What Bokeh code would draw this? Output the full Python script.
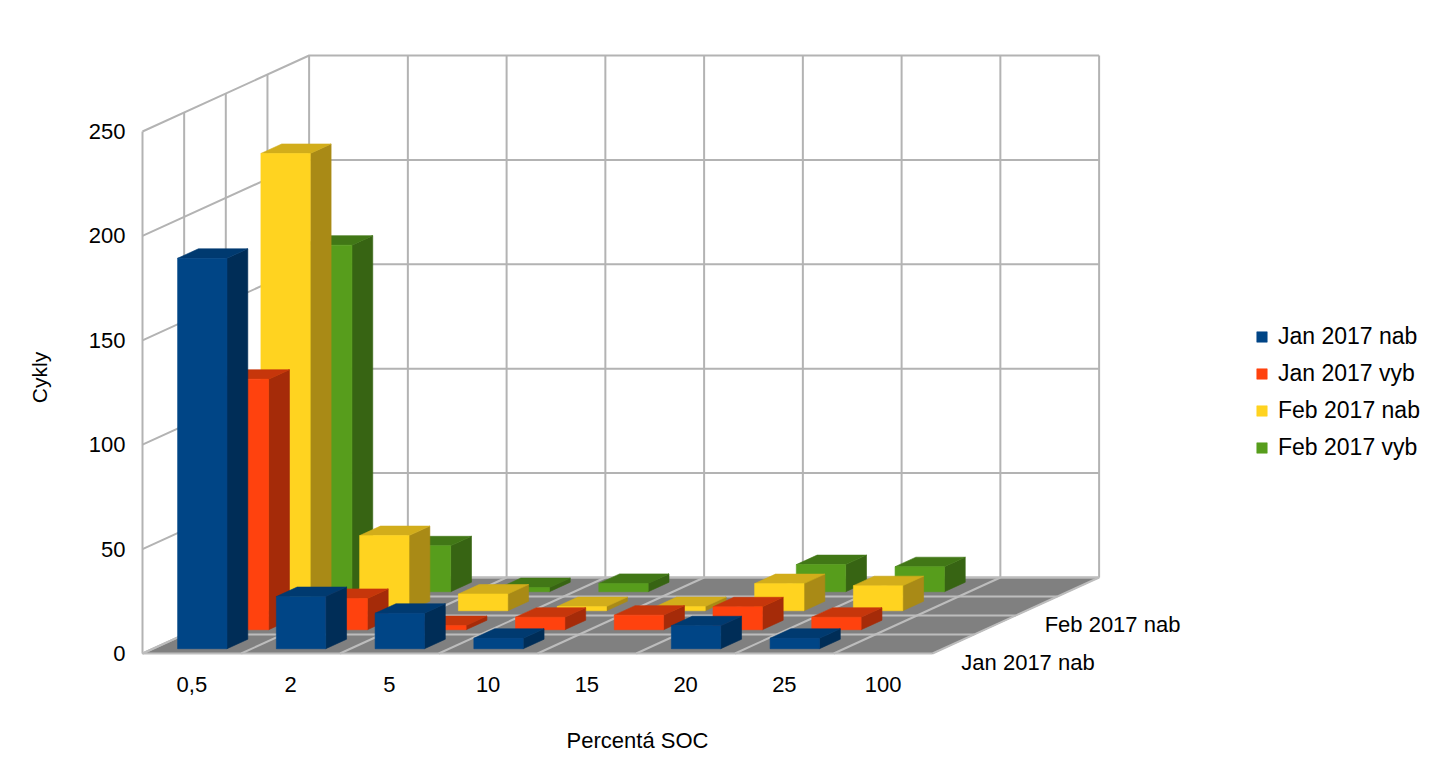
import math
from bokeh.plotting import figure
from bokeh.models import FixedTicker, Legend, LegendItem, ColumnDataSource
from bokeh.core.properties import value
from bokeh.embed import file_html
from bokeh.resources import INLINE

# ---------------- data ----------------
categories = ["0,5", "2", "5", "10", "15", "20", "25", "100"]
series_names = ["Jan 2017 nab", "Jan 2017 vyb", "Feb 2017 nab", "Feb 2017 vyb"]
jan_2017_nab = [187, 25, 17, 5, 0, 11, 5, 0]
jan_2017_vyb = [120, 15, 2, 6, 7, 11, 6, 0]
feb_2017_nab = [219, 36, 8, 2, 2, 13, 12, 0]
feb_2017_vyb = [166, 22, 2, 4, 0, 13, 12, 0]
value_ticks = [0, 50, 100, 150, 200, 250]
x_title = "Percentá SOC"
y_title = "Cykly"

series_values = [jan_2017_nab, jan_2017_vyb, feb_2017_nab, feb_2017_vyb]

# ---------------- style / layout ----------------
FONT = "Liberation Sans"
FRONT = ["#004586", "#ff420e", "#ffd320", "#579d1c"]
TOP = ["#003a70", "#c6360b", "#d2ad1b", "#417716"]
SIDE = ["#002d57", "#a52b09", "#a98a16", "#376413"]
WALL_LINE = "#b3b3b3"
FLOOR_FILL = "#808080"
FLOOR_LINE = "#bdbdbd"

W, H = 1424, 764
ORIGIN_X, ORIGIN_Y = 142.0, 653.0   # pixel position of front-left floor corner
PX_PER_CAT = 98.75
PX_PER_VAL = 2.088

# oblique projection (depth measured in series rows)
DX = 0.4218   # category units per row of depth
DY = 9.10     # value units per row of depth
BAR_W = 0.5
BAR_D = 0.5

n_cat = len(categories)
n_ser = len(series_values)
v_max = value_ticks[-1]


def px_to_data(px, py):
    return (px - ORIGIN_X) / PX_PER_CAT, (ORIGIN_Y - py) / PX_PER_VAL


def proj(c, v, d):
    return c + d * DX, v + d * DY


def quad(pts):
    xs, ys = zip(*(proj(*pt) for pt in pts))
    return list(xs), list(ys)


x0r, y1r = px_to_data(0, 0)
x1r, y0r = px_to_data(W, H)
p = figure(width=W, height=H, x_range=(x0r, x1r), y_range=(y0r, y1r),
           output_backend="svg", toolbar_location=None,
           min_border=0, min_border_left=0, min_border_right=0,
           min_border_top=0, min_border_bottom=0)
p.background_fill_color = "white"
p.border_fill_color = "white"
p.outline_line_color = None
p.xgrid.visible = False
p.ygrid.visible = False

# ---- floor ----
fx, fy = quad([(0, 0, 0), (n_cat, 0, 0), (n_cat, 0, n_ser), (0, 0, n_ser)])
p.patch(fx, fy, fill_color=FLOOR_FILL, line_color=FLOOR_FILL)

# ---- walls ----
wx, wy = [], []
for v in value_ticks:
    a = proj(0, v, 0)
    b = proj(0, v, n_ser)
    c = proj(n_cat, v, n_ser)
    wx.append([a[0], b[0], c[0]])
    wy.append([a[1], b[1], c[1]])
for d in range(n_ser + 1):
    a = proj(0, 0, d)
    b = proj(0, v_max, d)
    wx.append([a[0], b[0]])
    wy.append([a[1], b[1]])
for ci in range(1, n_cat + 1):
    a = proj(ci, 0, n_ser)
    b = proj(ci, v_max, n_ser)
    wx.append([a[0], b[0]])
    wy.append([a[1], b[1]])
p.multi_line(wx, wy, line_color=WALL_LINE, line_width=2)

# ---- floor grid ----
gx, gy = [], []
for d in range(n_ser + 1):
    a = proj(0, 0, d)
    b = proj(n_cat, 0, d)
    gx.append([a[0], b[0]])
    gy.append([a[1], b[1]])
for ci in range(n_cat + 1):
    a = proj(ci, 0, 0)
    b = proj(ci, 0, n_ser)
    gx.append([a[0], b[0]])
    gy.append([a[1], b[1]])
p.multi_line(gx, gy, line_color=FLOOR_LINE, line_width=2)

# ---- bars (back rows first) ----
legend_items = {}
for r in reversed(range(n_ser)):
    vals = series_values[r]
    d0 = r + (1 - BAR_D) / 2
    d1 = d0 + BAR_D
    frx, fry, tpx, tpy, sdx, sdy = [], [], [], [], [], []
    for i, h in enumerate(vals):
        if h <= 0:
            continue
        c0 = i + (1 - BAR_W) / 2
        c1 = c0 + BAR_W
        x, y = quad([(c0, 0, d0), (c1, 0, d0), (c1, h, d0), (c0, h, d0)])
        frx.append(x); fry.append(y)
        x, y = quad([(c0, h, d0), (c1, h, d0), (c1, h, d1), (c0, h, d1)])
        tpx.append(x); tpy.append(y)
        x, y = quad([(c1, 0, d0), (c1, 0, d1), (c1, h, d1), (c1, h, d0)])
        sdx.append(x); sdy.append(y)
    p.patches(sdx, sdy, fill_color=SIDE[r], line_color=SIDE[r], line_width=0.6)
    p.patches(tpx, tpy, fill_color=TOP[r], line_color=TOP[r], line_width=0.6)
    fr = p.patches(frx, fry, fill_color=FRONT[r], line_color=FRONT[r], line_width=0.6)
    legend_items[r] = LegendItem(label=series_names[r], renderers=[fr])

# ---- depth axis labels (every second series) ----
lbl_rows = list(range(0, n_ser, 2))
dsrc = ColumnDataSource(dict(
    x=[proj(n_cat, 0, r + 0.5)[0] for r in lbl_rows],
    y=[proj(n_cat, 0, r + 0.5)[1] for r in lbl_rows],
    text=[series_names[r] for r in lbl_rows],
))
p.text(x="x", y="y", text="text", source=dsrc, text_font=value(FONT),
       text_font_size="22px", text_color="black", text_align="left",
       text_baseline="middle", x_offset=8, y_offset=19)

# ---- axes (fixed inside the frame) ----
p.yaxis.ticker = FixedTicker(ticks=value_ticks)
p.yaxis.fixed_location = 0
p.xaxis.ticker = FixedTicker(ticks=[i + 0.5 for i in range(n_cat)])
p.xaxis.major_label_overrides = {i + 0.5: lab for i, lab in enumerate(categories)}
p.xaxis.fixed_location = px_to_data(0, 668)[1]
for ax in (p.xaxis, p.yaxis):
    ax.axis_line_color = None
    ax.major_tick_line_color = None
    ax.minor_tick_line_color = None
    ax.major_tick_out = 0
    ax.major_tick_in = 0
    ax.minor_tick_out = 0
    ax.minor_tick_in = 0
    ax.major_label_text_font = FONT
    ax.major_label_text_font_size = "22px"
    ax.major_label_text_color = "black"
p.yaxis.major_label_standoff = 17
p.xaxis.major_label_standoff = 8

# ---- axis titles ----
tx, ty = px_to_data(637, 740)
p.text(x=[tx], y=[ty], text=[x_title], text_font=value(FONT), text_font_size="22px",
       text_color="black", text_align="center", text_baseline="middle")
tx, ty = px_to_data(39, 377)
p.text(x=[tx], y=[ty], text=[y_title], angle=math.pi / 2, text_font=value(FONT),
       text_font_size="21px", text_color="black", text_align="center",
       text_baseline="middle")

# ---- legend ----
legend = Legend(items=[legend_items[r] for r in range(n_ser)], location=(1255, H - 461),
                orientation="vertical", padding=0, margin=0, spacing=10,
                label_height=26, glyph_height=13, glyph_width=13, label_standoff=10,
                border_line_color=None, background_fill_alpha=0,
                label_text_font=FONT, label_text_font_size="23px", label_text_color="black")
p.add_layout(legend)

with open("out.html", "w", encoding="utf-8") as f:
    f.write(file_html(p, INLINE))
